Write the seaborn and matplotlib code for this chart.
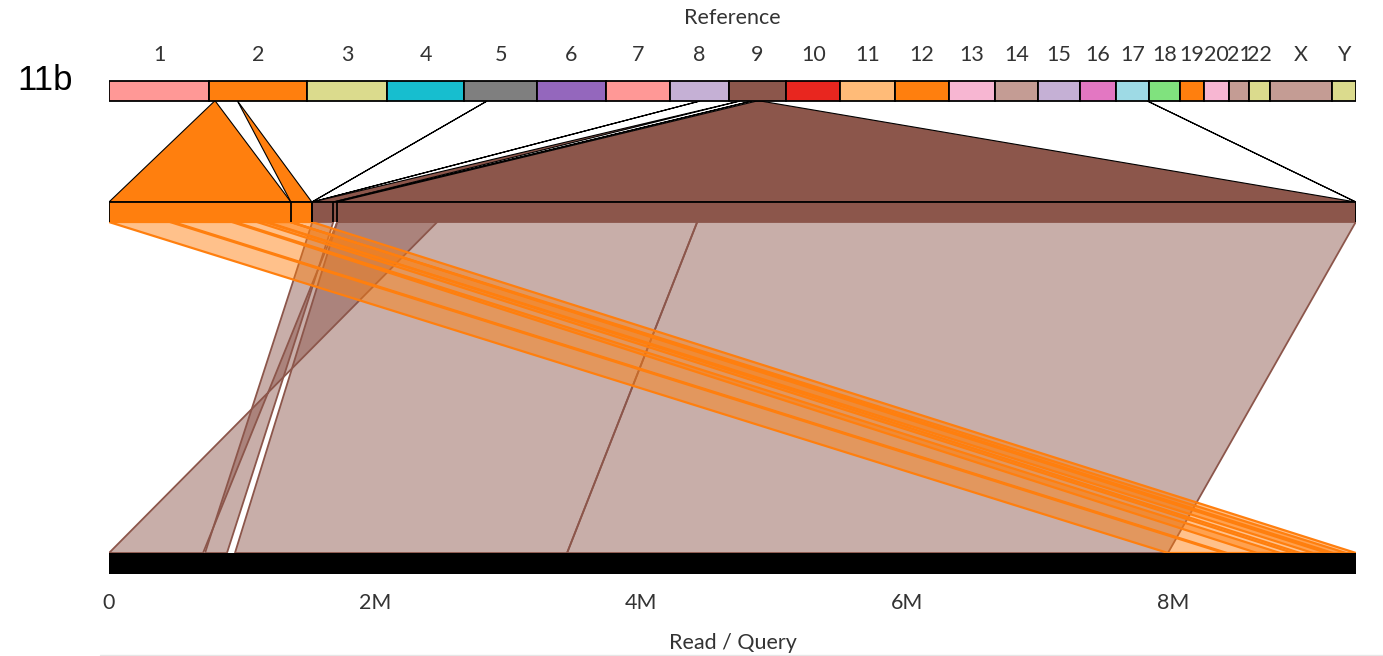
import matplotlib
matplotlib.use("Agg")
import matplotlib.pyplot as plt
from matplotlib.patches import Polygon, Rectangle
from matplotlib.lines import Line2D
from matplotlib.ticker import FuncFormatter
import seaborn as sns

# ---------------- data ----------------
chrom_names = ['1', '2', '3', '4', '5', '6', '7', '8', '9', '10', '11', '12', '13', '14',
               '15', '16', '17', '18', '19', '20', '21', '22', 'X', 'Y']
chrom_sizes_mb = [249.25, 243.20, 198.02, 191.15, 180.92, 171.12, 159.14, 146.36, 141.21,
                  135.53, 135.01, 133.85, 115.17, 107.35, 102.53, 90.35, 81.20, 78.08,
                  59.13, 63.03, 48.13, 51.30, 155.27, 59.37]
chrom_colors = ['#ff9896', '#ff7f0e', '#dbdb8d', '#17becf', '#7f7f7f', '#9467bd', '#ff9896',
                '#c5b0d5', '#8c564b', '#e8261f', '#ffbb78', '#ff7f0e', '#f7b6d2', '#c49c94',
                '#c5b0d5', '#e377c2', '#9edae5', '#80e27e', '#ff7f0e', '#f7b6d2', '#c49c94',
                '#dbdb8d', '#c49c94', '#dbdb8d']

# zoomed reference segments (middle bar), Mb
seg_chrom = ['2', '2', '5', '8', '9', '9', '9', '17']
seg_start = [13.000, 69.700, 56.900, 74.500, 27.000, 57.000, 69.500, 77.500]
seg_end = [14.477, 69.870, 56.902, 74.502, 27.170, 57.032, 77.770, 77.502]

# alignments: reference (chrom, start, end) -> query (start, end), Mb
aln_chrom = ['9', '9', '9', '9', '2', '2', '2', '2', '2', '2']
aln_ref_start = [69.500, 27.000, 69.500, 72.423, 13.000, 13.495, 13.999, 14.202, 14.267, 69.700]
aln_ref_end = [70.312, 27.170, 72.423, 77.770, 13.520, 14.023, 14.283, 14.477, 14.470, 69.870]
aln_q_start = [0.000, 0.722, 0.947, 3.444, 7.962, 8.383, 8.632, 8.902, 9.053, 9.158]
aln_q_end = [0.707, 0.887, 3.444, 7.962, 8.406, 8.805, 8.955, 9.203, 9.301, 9.376]
aln_strand = ['-', '+', '+', '+', '+', '+', '+', '+', '+', '+']

query_length = 9.376
tick_values = [0, 2, 4, 6, 8]

# ---------------- style ----------------
sns.set_theme(style="white")
plt.rcParams['font.family'] = ['Lato', 'DejaVu Sans']
TXT = '#333333'
FS = 15.5

W, H = 1383, 656
fig = plt.figure(figsize=(W / 100, H / 100), dpi=100)
ax = fig.add_axes([109 / W, (H - 574) / H, 1247 / W, 574 / H])
ax.set_xlim(0, query_length)
ax.set_ylim(574, 0)

Y_TOP0, Y_TOP1 = 81, 101
Y_MID0, Y_MID1 = 202, 222
Y_BOT0, Y_BOT1 = 553, 574

color_of = dict(zip(chrom_names, chrom_colors))
offsets = {}
acc = 0.0
for n, s in zip(chrom_names, chrom_sizes_mb):
    offsets[n] = acc
    acc += s
genome_total = acc
gscale = query_length / genome_total

def gx(chrom, pos):
    return (offsets[chrom] + pos) * gscale

seg_len = [e - s for s, e in zip(seg_start, seg_end)]
mid_total = sum(seg_len)
mscale = query_length / mid_total
seg_x0 = []
c = 0.0
for L in seg_len:
    seg_x0.append(c * mscale)
    c += L

def mx(chrom, pos):
    for i in range(len(seg_chrom)):
        if seg_chrom[i] == chrom and seg_start[i] - 1e-9 <= pos <= seg_end[i] + 1e-9:
            return seg_x0[i] + (pos - seg_start[i]) * mscale
    raise ValueError

# ---- top genome bar ----
for n, s in zip(chrom_names, chrom_sizes_mb):
    x0 = gx(n, 0)
    ax.add_patch(Rectangle((x0, Y_TOP0), s * gscale, Y_TOP1 - Y_TOP0, facecolor=color_of[n],
                           edgecolor='black', lw=1.3, zorder=5))
    ax.text(x0 + s * gscale / 2, 55, n, ha='center', va='center', fontsize=FS,
            fontweight='normal', color=TXT)
ax.text(query_length / 2, 18, 'Reference', ha='center', va='center', fontsize=FS,
        fontweight='normal', color=TXT)

# ---- connectors top -> middle ----
for i in range(len(seg_chrom)):
    ch = seg_chrom[i]
    t0, t1 = gx(ch, seg_start[i]), gx(ch, seg_end[i])
    m0, m1 = mx(ch, seg_start[i]), mx(ch, seg_end[i])
    ax.add_patch(Polygon([(t0, Y_TOP1), (t1, Y_TOP1), (m1, Y_MID0), (m0, Y_MID0)],
                         closed=True, facecolor=color_of[ch], edgecolor='black', lw=0.8,
                         zorder=3))

# ---- middle bar ----
for i in range(len(seg_chrom)):
    ch = seg_chrom[i]
    x0 = seg_x0[i]
    ax.add_patch(Rectangle((x0, Y_MID0), seg_len[i] * mscale, Y_MID1 - Y_MID0,
                           facecolor=color_of[ch], edgecolor='none', zorder=4))
    ax.plot([x0, x0], [Y_MID0, Y_MID1], color='black', lw=1.3, zorder=6,
            solid_capstyle='butt')
ax.plot([query_length, query_length], [Y_MID0, Y_MID1], color='black', lw=1.3, zorder=6,
        solid_capstyle='butt')
ax.plot([0, query_length], [Y_MID0, Y_MID0], color='black', lw=1.3, zorder=6)

# ---- alignment ribbons middle -> query ----
order = sorted(range(len(aln_chrom)), key=lambda k: 0 if aln_chrom[k] == '9' else 1)
for k in order:
    ch = aln_chrom[k]
    m0, m1 = mx(ch, aln_ref_start[k]), mx(ch, aln_ref_end[k])
    q0, q1 = aln_q_start[k], aln_q_end[k]
    if aln_strand[k] == '+':
        pts = [(m0, Y_MID1), (m1, Y_MID1), (q1, Y_BOT0), (q0, Y_BOT0)]
    else:
        pts = [(m0, Y_MID1), (m1, Y_MID1), (q0, Y_BOT0), (q1, Y_BOT0)]
    col = color_of[ch]
    fc = matplotlib.colors.to_rgba(col, 0.48)
    lw = 1.6 if ch == '2' else 1.3
    ax.add_patch(Polygon(pts, closed=True, facecolor=fc, edgecolor=col, lw=lw, zorder=2))

# ---- query bar ----
ax.add_patch(Rectangle((0, Y_BOT0), query_length, Y_BOT1 - Y_BOT0, facecolor='black',
                       edgecolor='none', zorder=5))

# ---- axis ----
ax.set_xticks(tick_values)
ax.xaxis.set_major_formatter(FuncFormatter(lambda v, p: '0' if v == 0 else f'{int(v)}M'))
ax.set_yticks([])
ax.tick_params(axis='x', length=0, pad=14, labelsize=FS, labelcolor=TXT)
ax.set_xlabel('Read / Query', fontsize=FS, fontweight='normal', color=TXT, labelpad=14)
sns.despine(ax=ax, left=True, bottom=True)
ax.set_facecolor('none')

fig.text(45 / W, 1 - 80 / H, '11b', ha='center', va='center', fontsize=25,
         family=['Liberation Sans', 'DejaVu Sans'], color='black')
fig.add_artist(Line2D([100 / W, 1], [1 - 655 / H, 1 - 655 / H], color='#e6e6e6', lw=1))

fig.savefig('out.png', dpi=100)
